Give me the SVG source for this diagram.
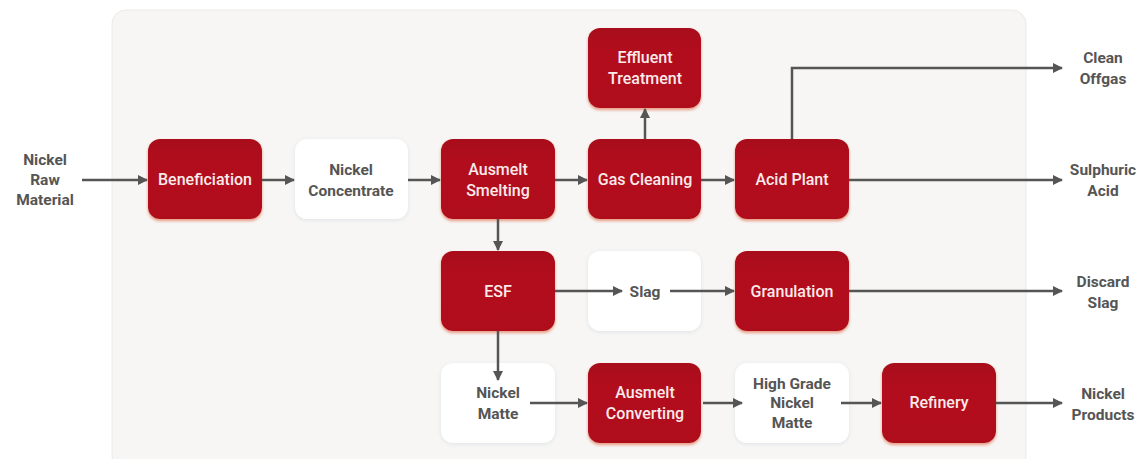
<svg xmlns="http://www.w3.org/2000/svg" width="1146" height="459" viewBox="0 0 1146 459">
<defs>
<linearGradient id="rg" x1="0" y1="0" x2="0" y2="1">
<stop offset="0" stop-color="#a8101e"/>
<stop offset="0.3" stop-color="#b20e1f"/>
<stop offset="1" stop-color="#b00d1e"/>
</linearGradient>
<filter id="sh" x="-10%" y="-10%" width="120%" height="125%">
<feGaussianBlur in="SourceAlpha" stdDeviation="1.5"/>
<feOffset dy="2" result="b"/>
<feFlood flood-color="#e07050" flood-opacity="0.7"/>
<feComposite in2="b" operator="in"/>
<feMerge><feMergeNode/><feMergeNode in="SourceGraphic"/></feMerge>
</filter>
<filter id="wsh" x="-10%" y="-10%" width="120%" height="125%">
<feGaussianBlur in="SourceAlpha" stdDeviation="2"/>
<feOffset dy="1" result="b"/>
<feFlood flood-color="#d8dde2" flood-opacity="0.8"/>
<feComposite in2="b" operator="in"/>
<feMerge><feMergeNode/><feMergeNode in="SourceGraphic"/></feMerge>
</filter>
<marker id="ah" viewBox="0 0 10 10" refX="9" refY="5" markerWidth="4" markerHeight="4" orient="auto" markerUnits="strokeWidth">
<path d="M0,0 L10,5 L0,10 z" fill="#555"/>
</marker>
</defs>
<style>
.red{fill:url(#rg);filter:url(#sh)}
.wht{fill:#fff;filter:url(#wsh)}
.wt{font-family:"Roboto","Liberation Sans",sans-serif;font-weight:500;font-size:16px;fill:#fbeaea;text-anchor:middle}
.gt{font-family:"Roboto","Liberation Sans",sans-serif;font-weight:700;font-size:15.5px;fill:#555;text-anchor:middle}
.c{stroke:#555;stroke-width:2.5;fill:none;marker-end:url(#ah)}
</style>
<rect x="0" y="0" width="1146" height="459" fill="#fff"/>
<rect x="112" y="10" width="914" height="460" rx="14" fill="#f7f6f5" stroke="#ebeaea" stroke-width="1"/>

<g id="in-label"><text class="gt" x="45" y="165">Nickel</text><text class="gt" x="45" y="185">Raw</text><text class="gt" x="45" y="205">Material</text></g>

<g id="beneficiation"><rect class="red" x="148" y="139" width="114" height="80" rx="12"/><text class="wt" x="205" y="185">Beneficiation</text></g>
<g id="nickel-concentrate"><rect class="wht" x="295" y="139" width="113" height="80" rx="12"/><text class="gt" x="351" y="175">Nickel</text><text class="gt" x="351" y="196">Concentrate</text></g>
<g id="ausmelt-smelting"><rect class="red" x="441" y="139" width="114" height="80" rx="12"/><text class="wt" x="498" y="175">Ausmelt</text><text class="wt" x="498" y="196">Smelting</text></g>
<g id="gas-cleaning"><rect class="red" x="588" y="139" width="113" height="80" rx="12"/><text class="wt" x="645" y="185">Gas Cleaning</text></g>
<g id="acid-plant"><rect class="red" x="735" y="139" width="114" height="80" rx="12"/><text class="wt" x="792" y="185">Acid Plant</text></g>
<g id="effluent-treatment"><rect class="red" x="588" y="28" width="113" height="80" rx="12"/><text class="wt" x="645" y="63">Effluent</text><text class="wt" x="645" y="84">Treatment</text></g>
<g id="esf"><rect class="red" x="441" y="251" width="114" height="80" rx="12"/><text class="wt" x="498" y="297">ESF</text></g>
<g id="slag"><rect class="wht" x="588" y="251" width="113" height="80" rx="12"/><text class="gt" x="645" y="297">Slag</text></g>
<g id="granulation"><rect class="red" x="735" y="251" width="114" height="80" rx="12"/><text class="wt" x="792" y="297">Granulation</text></g>
<g id="nickel-matte"><rect class="wht" x="441" y="363" width="114" height="80" rx="12"/><text class="gt" x="498" y="398">Nickel</text><text class="gt" x="498" y="419">Matte</text></g>
<g id="ausmelt-converting"><rect class="red" x="588" y="363" width="113" height="80" rx="12"/><text class="wt" x="645" y="398">Ausmelt</text><text class="wt" x="645" y="419">Converting</text></g>
<g id="high-grade-nickel-matte"><rect class="wht" x="735" y="363" width="114" height="80" rx="12"/><text class="gt" x="792" y="389">High Grade</text><text class="gt" x="792" y="408">Nickel</text><text class="gt" x="792" y="428">Matte</text></g>
<g id="refinery"><rect class="red" x="882" y="363" width="114" height="80" rx="12"/><text class="wt" x="939" y="408">Refinery</text></g>

<g id="out-labels">
<text class="gt" x="1103" y="63">Clean</text><text class="gt" x="1103" y="84">Offgas</text>
<text class="gt" x="1103" y="175">Sulphuric</text><text class="gt" x="1103" y="196">Acid</text>
<text class="gt" x="1103" y="287">Discard</text><text class="gt" x="1103" y="308">Slag</text>
<text class="gt" x="1103" y="399">Nickel</text><text class="gt" x="1103" y="420">Products</text>
</g>

<g id="connectors">
<path class="c" d="M82,180 H147"/>
<path class="c" d="M262,180 H294"/>
<path class="c" d="M408,180 H440"/>
<path class="c" d="M555,180 H587"/>
<path class="c" d="M701,180 H734"/>
<path class="c" d="M849,180 H1062"/>
<path class="c" d="M645,139 V109"/>
<path class="c" d="M792,139 V68 H1062"/>
<path class="c" d="M498,219 V250"/>
<path class="c" d="M555,291 H622"/>
<path class="c" d="M670,291 H734"/>
<path class="c" d="M849,291 H1062"/>
<path class="c" d="M498,331 V380"/>
<path class="c" d="M530,403 H587"/>
<path class="c" d="M703,403 H742"/>
<path class="c" d="M841,403 H881"/>
<path class="c" d="M996,403 H1062"/>
</g>
</svg>
